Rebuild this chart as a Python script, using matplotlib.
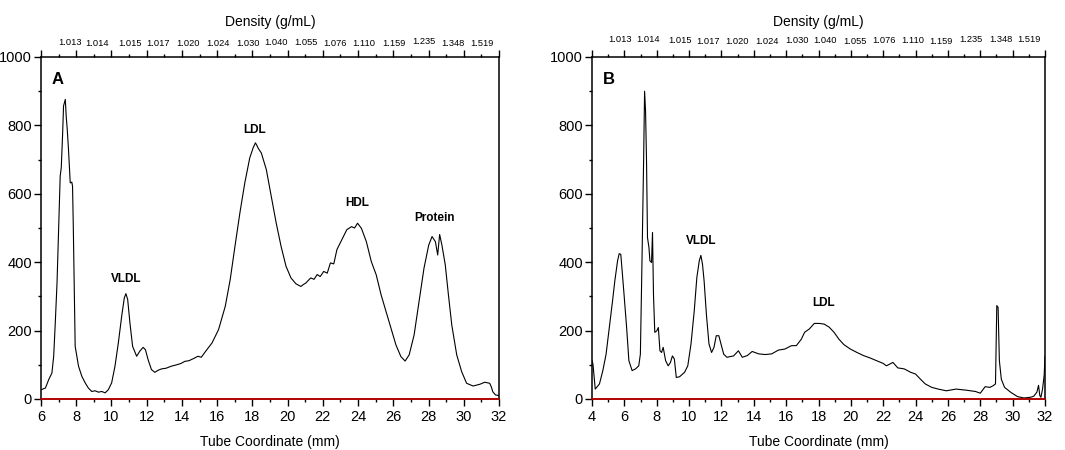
import matplotlib
matplotlib.use('Agg')
import matplotlib.pyplot as plt
from matplotlib.ticker import MultipleLocator

plt.rcParams['font.family'] = ['Liberation Sans', 'DejaVu Sans']

# panel A trace (tube coordinate mm, signal)
A_x = [6.00, 6.25, 6.44, 6.62, 6.72, 6.81, 6.91, 7.00, 7.09, 7.15,
       7.23, 7.28, 7.38, 7.43, 7.49, 7.56, 7.66, 7.75, 7.79, 7.83,
       7.89, 7.94, 8.13, 8.32, 8.51, 8.69, 8.88, 9.07, 9.26, 9.45,
       9.64, 9.82, 10.01, 10.20, 10.39, 10.58, 10.73, 10.82, 10.92, 11.05,
       11.20, 11.43, 11.61, 11.80, 11.93, 12.08, 12.27, 12.46, 12.65, 12.84,
       13.10, 13.40, 13.70, 13.95, 14.16, 14.40, 14.65, 14.91, 15.10, 15.34,
       15.71, 16.08, 16.46, 16.74, 17.01, 17.29, 17.57, 17.85, 18.04, 18.17,
       18.25, 18.32, 18.51, 18.79, 19.07, 19.35, 19.63, 19.91, 20.19, 20.47,
       20.75, 20.90, 21.03, 21.31, 21.50, 21.68, 21.85, 22.05, 22.25, 22.43,
       22.62, 22.80, 23.08, 23.36, 23.63, 23.80, 23.97, 24.19, 24.47, 24.75,
       25.03, 25.31, 25.59, 25.87, 26.15, 26.43, 26.67, 26.90, 27.18, 27.46,
       27.74, 28.01, 28.20, 28.39, 28.52, 28.63, 28.76, 28.95, 29.13, 29.32,
       29.60, 29.88, 30.16, 30.53, 30.91, 31.19, 31.47, 31.56, 31.65, 31.80,
       32.00]
A_y = [27, 32, 57, 76, 125, 222, 340, 496, 652, 676,
       779, 857, 876, 827, 788, 730, 632, 634, 622, 515,
       320, 154, 96, 66, 47, 32, 22, 24, 20, 22,
       18, 27, 47, 96, 164, 242, 296, 308, 291, 222,
       154, 125, 140, 151, 144, 115, 86, 78, 84, 88,
       90, 96, 100, 104, 110, 112, 118, 125, 122, 139,
       164, 203, 271, 349, 446, 544, 632, 705, 734, 749,
       742, 734, 719, 671, 593, 515, 446, 388, 354, 337,
       329, 335, 339, 354, 350, 364, 358, 373, 368, 398,
       395, 437, 466, 495, 504, 500, 514, 499, 460, 402,
       363, 304, 255, 207, 158, 124, 111, 129, 187, 285,
       382, 450, 475, 460, 421, 481, 450, 392, 304, 216,
       129, 80, 46, 38, 43, 49, 46, 36, 21, 12,
       10]

# panel B trace
B_x = [4.00, 4.06, 4.20, 4.46, 4.67, 4.87, 5.07, 5.27, 5.41, 5.58,
       5.68, 5.78, 5.88, 5.98, 6.14, 6.28, 6.48, 6.69, 6.89, 6.99,
       7.09, 7.19, 7.25, 7.31, 7.37, 7.43, 7.52, 7.58, 7.68, 7.74,
       7.80, 7.88, 8.00, 8.10, 8.20, 8.30, 8.40, 8.55, 8.71, 8.85,
       8.97, 9.09, 9.21, 9.41, 9.72, 9.92, 10.12, 10.32, 10.48, 10.63,
       10.73, 10.83, 10.93, 11.07, 11.23, 11.39, 11.54, 11.68, 11.84, 12.00,
       12.14, 12.34, 12.75, 13.05, 13.29, 13.60, 13.90, 14.30, 14.71, 15.11,
       15.52, 15.92, 16.33, 16.63, 16.94, 17.14, 17.44, 17.74, 18.05, 18.35,
       18.66, 18.96, 19.26, 19.57, 19.97, 20.38, 20.78, 21.19, 21.59, 22.00,
       22.20, 22.60, 22.90, 23.30, 23.70, 24.00, 24.30, 24.60, 25.00, 25.40,
       25.90, 26.50, 27.10, 27.70, 28.00, 28.30, 28.60, 28.80, 28.94, 29.02,
       29.10, 29.18, 29.30, 29.50, 29.90, 30.30, 30.70, 31.10, 31.30, 31.50,
       31.60, 31.68, 31.75, 31.85, 31.95, 32.00]
B_y = [112, 102, 29, 44, 83, 131, 209, 287, 345, 404,
       425, 423, 365, 306, 209, 112, 83, 88, 97, 131,
       404, 696, 900, 842, 696, 472, 443, 404, 399, 487,
       306, 195, 199, 209, 141, 136, 151, 112, 97, 107,
       126, 117, 63, 65, 78, 97, 161, 258, 355, 404,
       420, 394, 345, 248, 161, 136, 151, 185, 185, 156,
       131, 122, 126, 141, 122, 127, 139, 132, 130, 132,
       143, 146, 156, 156, 175, 195, 205, 221, 221, 219,
       210, 195, 175, 159, 146, 136, 127, 120, 112, 104,
       97, 107, 91, 88, 78, 73, 58, 44, 34, 29,
       24, 29, 26, 22, 17, 36, 34, 39, 44, 273,
       268, 112, 58, 34, 19, 7, 3, 5, 8, 20,
       40, 10, 5, 30, 70, 125]

# density scale along the top
dens_labels = ['1.013', '1.014', '1.015', '1.017', '1.020', '1.024', '1.030', '1.040',
               '1.055', '1.076', '1.110', '1.159', '1.235', '1.348', '1.519']
dens_pos_A = [7.62, 9.19, 11.05, 12.66, 14.33, 16.07, 17.73, 19.36,
              21.05, 22.70, 24.34, 26.03, 27.72, 29.36, 31.05]
dens_pos_B = [5.75, 7.46, 9.45, 11.16, 12.97, 14.80, 16.65, 18.40,
              20.28, 22.07, 23.81, 25.54, 27.42, 29.27, 31.02]

# peak labels
peaks_A = [('VLDL', 10.85, 352), ('LDL', 18.15, 787), ('HDL', 23.95, 573), ('Protein', 28.35, 529)]
peaks_B = [('VLDL', 10.75, 463), ('LDL', 18.3, 282)]

# small vertical jitter of the density labels (px above the frame)
off_A = [14.7, 13.7, 13.7, 13.7, 13.7, 13.7, 13.7, 14.7, 14.7, 13.7, 13.7, 13.7, 15.3, 13.7, 13.7]
off_B = [17.7, 17.7, 16.7, 15, 15, 15, 16.7, 16.7, 16, 16.7, 16.7, 15, 17.3, 17.3, 17.3]


def style_panel(ax, xs, ys, xmin, letter, peaks, dpos, doff):
    ax.plot(xs, ys, color='black', lw=0.8)
    ax.axhline(0, color='#cc0000', lw=1.2, zorder=5, clip_on=False)
    ax.set_xlim(xmin, 32)
    ax.set_ylim(0, 1000)
    ax.xaxis.set_major_locator(MultipleLocator(2))
    ax.xaxis.set_minor_locator(MultipleLocator(1))
    ax.yaxis.set_major_locator(MultipleLocator(200))
    ax.yaxis.set_minor_locator(MultipleLocator(100))
    ax.tick_params(which='both', direction='out', top=True, right=False,
                   labeltop=False, width=1)
    ax.tick_params(which='major', length=5)
    ax.tick_params(which='minor', length=2.5)
    ax.tick_params(axis='x', labelsize=10.5, pad=3)
    ax.tick_params(axis='y', labelsize=10.5, pad=1.5)
    for sp in ax.spines.values():
        sp.set_linewidth(1.1)

    ax.set_xlabel('Tube Coordinate (mm)', fontsize=10, labelpad=8)
    ax.annotate('Density (g/mL)', xy=(0.5, 1.0), xycoords='axes fraction',
                xytext=(0, 25), textcoords='offset points', ha='center',
                va='center', fontsize=10)

    for lab, x, o in zip(dens_labels, dpos, doff):
        ax.annotate(lab, xy=(x, 1.0), xycoords=('data', 'axes fraction'),
                    xytext=(0, o * 0.72), textcoords='offset points',
                    ha='center', va='center', fontsize=6.7)

    ax.text(0.024, 0.935, letter, transform=ax.transAxes, fontsize=12,
            fontweight='bold', ha='left', va='center')
    for lab, x, y in peaks:
        ax.text(x, y, lab, fontsize=8.5, fontweight='bold', ha='center', va='center')


fig = plt.figure(figsize=(10.65, 4.5), dpi=100)
axA = fig.add_axes([41 / 1065, 51 / 450, 458 / 1065, 342 / 450])
axB = fig.add_axes([592 / 1065, 51 / 450, 453 / 1065, 342 / 450])

style_panel(axA, A_x, A_y, 6, 'A', peaks_A, dens_pos_A, off_A)
style_panel(axB, B_x, B_y, 4, 'B', peaks_B, dens_pos_B, off_B)

fig.savefig('out.png', dpi=100)
